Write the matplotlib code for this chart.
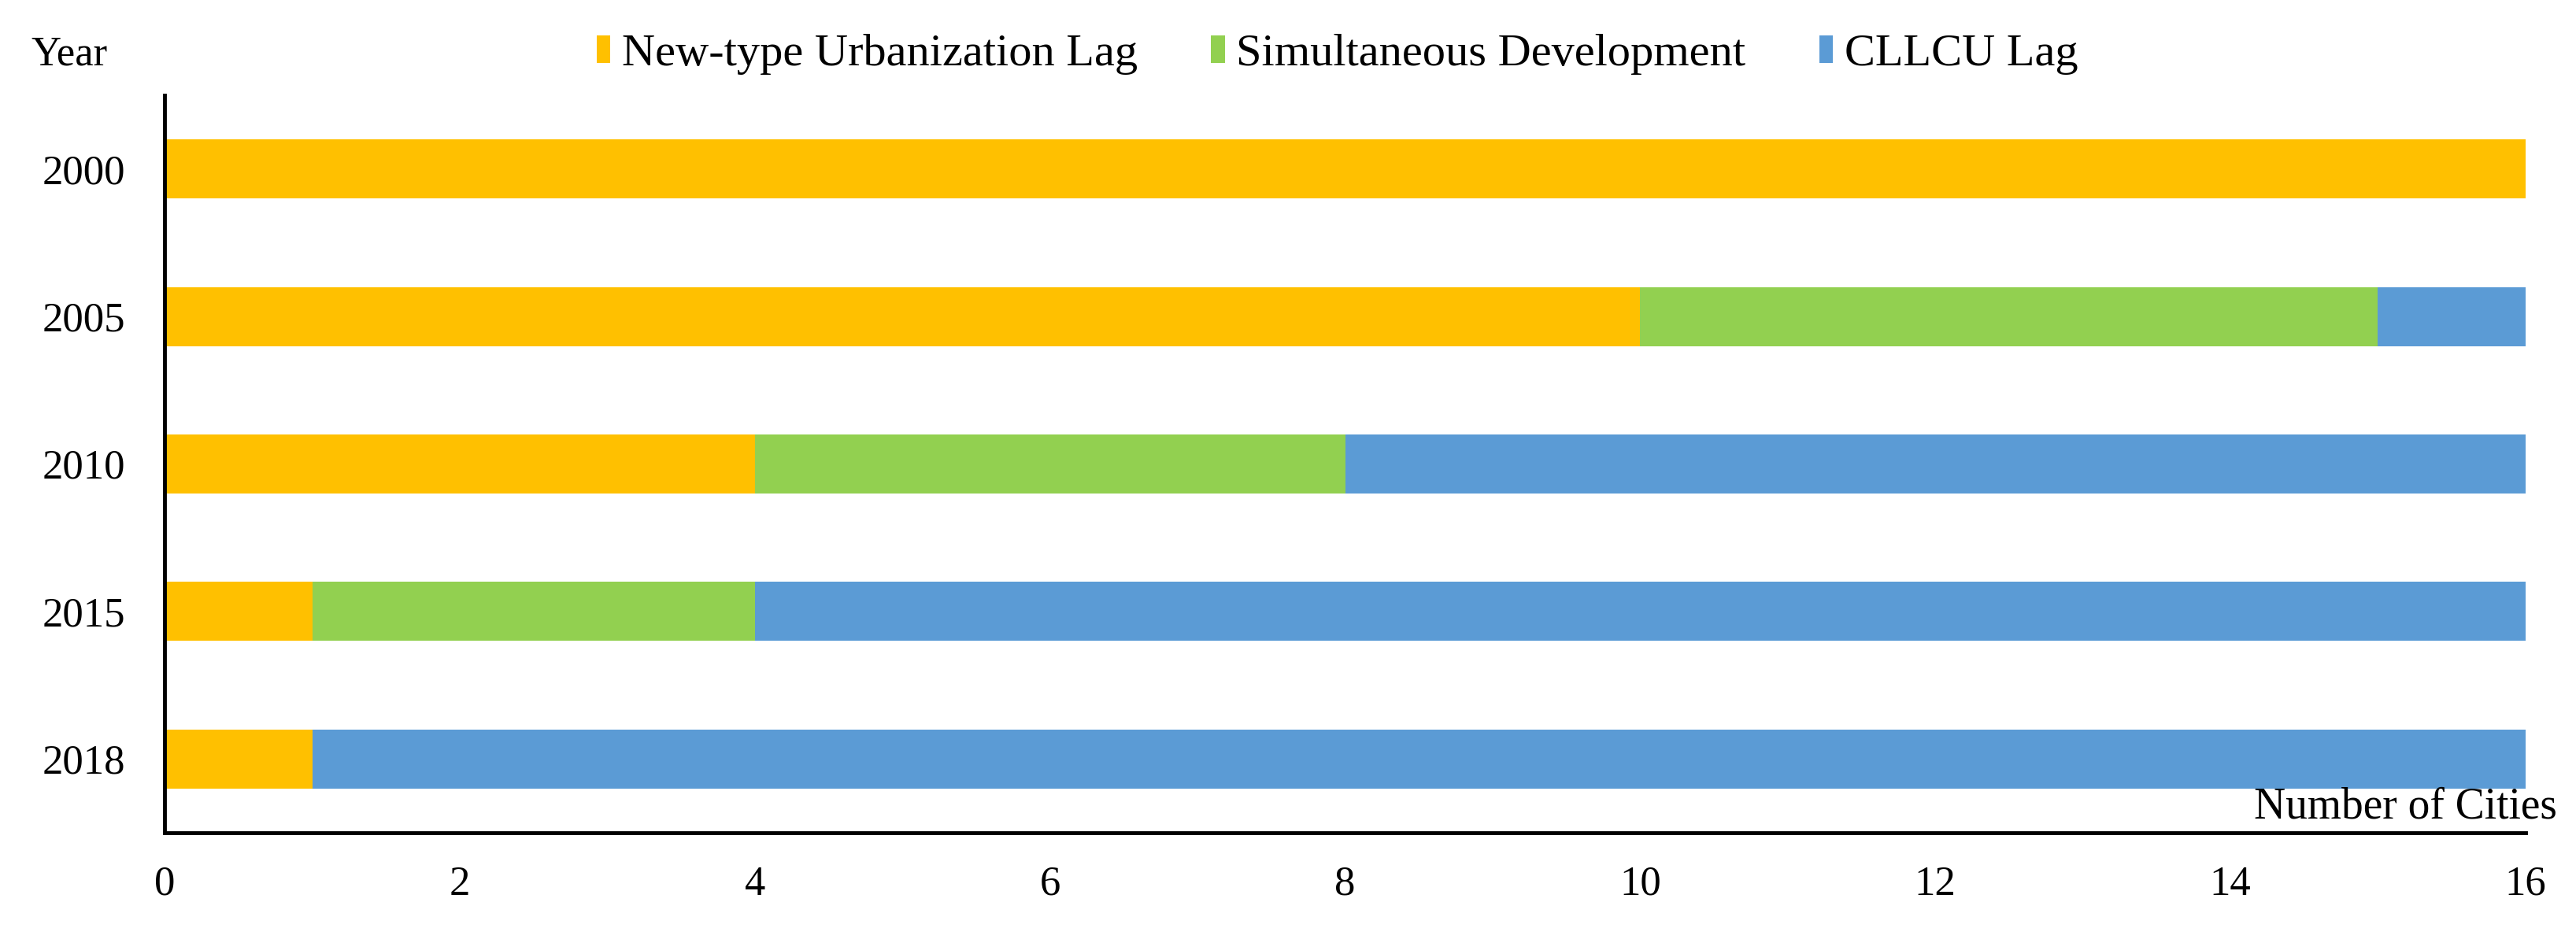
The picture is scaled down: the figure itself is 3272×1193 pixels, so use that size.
import matplotlib.pyplot as plt
import numpy as np

plt.rcParams["font.family"] = ["Liberation Serif", "DejaVu Serif"]

# data
years = ["2000", "2005", "2010", "2015", "2018"]
urban_lag = [16, 10, 4, 1, 1]
simultaneous = [0, 5, 4, 3, 0]
clllcu_lag = [0, 1, 8, 12, 15]
series_names = ["New-type Urbanization Lag", "Simultaneous Development", "CLLCU Lag"]
colours = ["#FFC000", "#92D050", "#5B9BD5"]
x_ticks = [0, 2, 4, 6, 8, 10, 12, 14, 16]

fig = plt.figure(figsize=(32.73, 11.93), dpi=100)
ax = fig.add_axes([0.0639, 0.1132, 0.9162, 0.7854])

pos = np.arange(len(years))
left = np.zeros(len(years))
for vals, name, colour in zip([urban_lag, simultaneous, clllcu_lag], series_names, colours):
    ax.barh(pos, vals, left=left, height=0.4, color=colour, label=name, linewidth=0)
    left += np.array(vals)

ax.set_ylim(len(years) - 0.5, -0.5)
ax.set_xlim(0, 16)
ax.set_yticks(pos)
ax.set_yticklabels(years)
ax.set_xticks(x_ticks)
ax.tick_params(axis="both", length=0, labelsize=38)
ax.tick_params(axis="x", pad=30)
ax.tick_params(axis="y", pad=36)

for side in ["top", "right"]:
    ax.spines[side].set_visible(False)
for side in ["left", "bottom"]:
    ax.spines[side].set_linewidth(3.5)
    ax.spines[side].set_color("black")
    ax.spines[side].set_capstyle("projecting")

fig.text(0.027, 0.942, "Year", fontsize=38, ha="center", va="center")
fig.text(0.9924, 0.119, "Number of Cities", fontsize=40, ha="right", va="bottom")

ax.legend(
    loc="center",
    bbox_to_anchor=(0.519, 0.942),
    bbox_transform=fig.transFigure,
    ncol=3,
    frameon=False,
    fontsize=42,
    handlelength=0.3,
    handleheight=0.55,
    handletextpad=0.25,
    columnspacing=1.6,
)

fig.savefig("out.png", dpi=100)
